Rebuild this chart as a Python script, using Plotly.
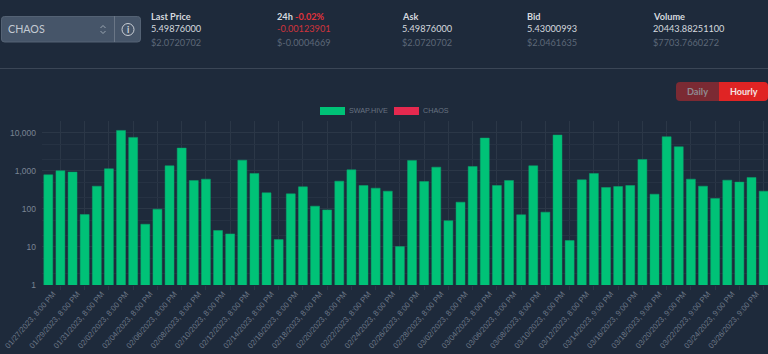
import plotly.graph_objects as go

BG = "#1e2a3b"
dates = ["01/27/2023", "01/28/2023", "01/29/2023", "01/30/2023", "01/31/2023", "02/01/2023", "02/02/2023", "02/03/2023",
         "02/04/2023", "02/05/2023", "02/06/2023", "02/07/2023", "02/08/2023", "02/09/2023", "02/10/2023", "02/11/2023",
         "02/12/2023", "02/13/2023", "02/14/2023", "02/15/2023", "02/16/2023", "02/17/2023", "02/18/2023", "02/19/2023",
         "02/20/2023", "02/21/2023", "02/22/2023", "02/23/2023", "02/24/2023", "02/25/2023", "02/26/2023", "02/27/2023",
         "02/28/2023", "03/01/2023", "03/02/2023", "03/03/2023", "03/04/2023", "03/05/2023", "03/06/2023", "03/07/2023",
         "03/08/2023", "03/09/2023", "03/10/2023", "03/11/2023", "03/12/2023", "03/13/2023", "03/14/2023", "03/15/2023",
         "03/16/2023", "03/17/2023", "03/18/2023", "03/19/2023", "03/20/2023", "03/21/2023", "03/22/2023", "03/23/2023",
         "03/24/2023", "03/25/2023", "03/26/2023", "03/27/2023"]
swap_hive = [785, 1000, 923, 71, 395, 1130, 11500, 7540, 39.5, 98, 1355, 3950, 557, 604, 27, 22, 1900, 851,
             264, 15.6, 248, 379, 118, 94, 535, 1062, 411, 350, 292, 10.2, 1871, 524, 1248, 49, 150, 1300, 7244,
             411, 557, 70, 1355, 82, 8690, 14.7, 579, 851, 364, 387, 411, 1986, 243, 7850, 4282, 604, 395, 187,
             568, 504, 668, 292]
y_ticks = [1, 10, 100, 1000, 10000]
y_labels = ["1", "10", "100", "1,000", "10,000"]
header = [
    ("Last Price", "5.49876000", "$2.0720702", 151),
    ("Ask", "5.49876000", "$2.0720702", 402),
    ("Bid", "5.43000993", "$2.0461635", 527),
    ("Volume", "20443.88251100", "$7703.7660272", 653),
]

W, H = 768, 354
L, R, T, B = 42, 768, 121, 285
LABEL_OFFSET = 0.4


def px(x):
    return (x - L) / (R - L)


def py(y):
    return (B - y) / (B - T)


def tick_label(i):
    hour = "8:00 PM" if i <= 44 else "9:00 PM"
    return f"{dates[i]}, {hour}"


fig = go.Figure()
idx = list(range(len(dates)))
fig.add_bar(x=idx, y=swap_hive, width=0.74,
            marker=dict(color="#00c277", line=dict(color="#0aa56f", width=0.5)),
            name="SWAP.HIVE", showlegend=False)

HF = "Lato"
ann = []


def text(x, y, s, color, size=9.2, bold=False, anchor="left", family=HF):
    ann.append(dict(xref="paper", yref="paper", x=px(x), y=py(y), text=f"<b>{s}</b>" if bold else s,
                    showarrow=False, xanchor=anchor, yanchor="middle", xshift=0, borderpad=0, borderwidth=0,
                    font=dict(family=family, size=size, color=color)))


for title, val, usd, x in header:
    text(x, 16.5, title, "#d5d9df", bold=True)
    text(x, 29, val, "#d5d9df")
    text(x, 42, usd, "#5d6878")
text(277, 16.5, "24h", "#d5d9df", bold=True)
text(295, 16.5, "-0.02%", "#e0323c", bold=True)
text(277, 29, "-0.00123901", "#d0343c")
text(277, 42, "$-0.0004669", "#5d6878")
text(8, 29, "CHAOS", "#c3cad3", size=10.7)
text(127.5, 29.5, "i", "#d5d9df", size=9, bold=True, anchor="center")
text(697.5, 91, "Daily", "#8f8a92", size=9.2, bold=True, anchor="center")
text(743.5, 91, "Hourly", "#f4e4e4", size=9, bold=True, anchor="center")
text(349, 110.5, "SWAP.HIVE", "#687281", size=7.2, family="Liberation Sans")
text(423, 110.5, "CHAOS", "#687281", size=7.2, family="Liberation Sans")


def to_paper(path):
    out = []
    for tok in path.split():
        cmd = ""
        if tok[0].isalpha():
            cmd, tok = tok[0], tok[1:]
        if tok:
            a, b = tok.split(",")
            tok = f"{px(float(a)):.5f},{py(float(b)):.5f}"
        out.append(cmd + tok)
    return " ".join(out)


def rrect(x0, y0, x1, y1, fill, r=(3, 3, 3, 3), line=None):
    tl, tr, br, bl = r
    path = (f"M{x0 + tl},{y0} L{x1 - tr},{y0} Q{x1},{y0} {x1},{y0 + tr} L{x1},{y1 - br} Q{x1},{y1} {x1 - br},{y1} "
            f"L{x0 + bl},{y1} Q{x0},{y1} {x0},{y1 - bl} L{x0},{y0 + tl} Q{x0},{y0} {x0 + tl},{y0} Z")
    return dict(type="path", path=to_paper(path), xref="paper", yref="paper", fillcolor=fill,
                line=dict(color=line or fill, width=1 if line else 0), layer="above")


def pline(x0, y0, x1, y1, color, width=1):
    return dict(type="line", xref="paper", yref="paper", x0=px(x0), x1=px(x1), y0=py(y0), y1=py(y1),
                line=dict(color=color, width=width), layer="above")


shapes = [
    rrect(1.5, 16.5, 140.5, 42, "#465569", line="#566475"),
    pline(114.5, 16, 114.5, 42, "#6a7686"),
    dict(type="circle", xref="paper", yref="paper", x0=px(122), x1=px(134), y0=py(23.5), y1=py(35.5),
         line=dict(color="#c9ced5", width=1), layer="above"),
    pline(100.5, 28, 103, 25.5, "#9aa5b1"), pline(103, 25.5, 105.5, 28, "#9aa5b1"),
    pline(100.5, 31, 103, 33.5, "#9aa5b1"), pline(103, 33.5, 105.5, 31, "#9aa5b1"),
    pline(0, 68.5, 768, 68.5, "#3b4656"),
    rrect(676, 82, 719, 101, "#7b2a33", r=(4, 0, 0, 4)),
    rrect(719, 82, 768, 101, "#e02424", r=(0, 4, 4, 0)),
    rrect(320, 107, 345, 115, "#00c277", r=(0, 0, 0, 0)),
    rrect(394, 107, 419, 115, "#e5294f", r=(0, 0, 0, 0)),
]

fig.update_layout(
    width=W, height=H, autosize=False, paper_bgcolor=BG, plot_bgcolor=BG,
    margin=dict(l=L, r=W - R, t=T, b=H - B, pad=0),
    annotations=ann, shapes=shapes, showlegend=False,
    font=dict(family="Liberation Sans", size=10, color="#6b7686"),
    xaxis=dict(
        range=[-0.52, 59.36], tickmode="array", automargin=False,
        tickvals=[i + LABEL_OFFSET for i in idx[::2]], ticktext=[tick_label(i) for i in idx[::2]],
        tickangle=-49, showgrid=False, ticks="", showline=False, zeroline=False,
        tickfont=dict(size=7.8, color="#6b7686"), ticklabelstandoff=2,
        minor=dict(tick0=1, dtick=2, showgrid=True, gridcolor="#2b3747", gridwidth=1,
                   ticks="outside", ticklen=4, tickcolor="#2b3747"),
    ),
    yaxis=dict(
        type="log", range=[0, 4.308], tickmode="array", tickvals=y_ticks, ticktext=y_labels, automargin=False,
        showgrid=True, gridcolor="#2b3747", gridwidth=1, zeroline=False, showline=False,
        tickfont=dict(size=8.5, color="#7a8493"), ticks="", ticklabelstandoff=5,
        minor=dict(tickvals=[2, 5, 20, 50, 200, 500, 2000, 5000, 20000], showgrid=True,
                   gridcolor="#263243", gridwidth=1, ticks=""),
    ),
)
fig.write_html("out.html", config=dict(displayModeBar=False),
               post_script="document.body.style.margin='0';document.body.style.background='#1e2a3b';"
                           "document.documentElement.style.overflow='hidden';")
